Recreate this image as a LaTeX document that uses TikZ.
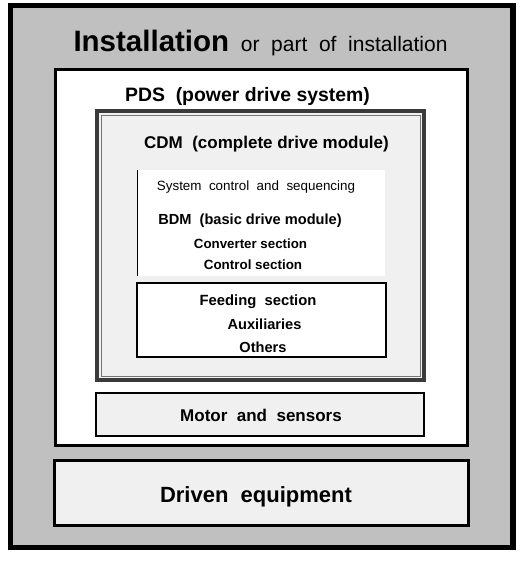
\documentclass[tikz,border=0pt]{standalone}
\usepackage{fontspec}
\setmainfont{Liberation Sans}
\definecolor{instgrey}{HTML}{C0C0C0}
\definecolor{panel}{HTML}{F0F0F0}
\definecolor{pdsline}{HTML}{3A3A3A}
\begin{document}
\begin{tikzpicture}[x=1pt,y=-1pt,
  lbl/.style={anchor=base,inner sep=0pt,text=black},
  bl/.style={lbl,font=\bfseries}]
\useasboundingbox (0,0) rectangle (521,564);
% outer installation frame
\draw[line width=5.5pt,fill=instgrey] (10.5,5.5) rectangle (513,547.5);
% PDS area
\draw[line width=3pt,fill=white] (55,70) rectangle (467.5,445);
% CDM double frame
\draw[line width=4pt,draw=pdsline,fill=panel] (97,111) rectangle (424,380);
\draw[line width=0.8pt,draw=pdsline!70] (101,115) rectangle (420,376);
% BDM white area with left rule
\fill[white] (137,170) rectangle (385,276);
\draw[line width=1pt] (137.5,170) -- (137.5,276);
% feeding box
\draw[line width=1.2pt,fill=white] (137,283) rectangle (386,357);
% motor box
\draw[line width=1.5pt,fill=panel] (96,393) rectangle (424,436);
% driven equipment
\draw[line width=3pt,fill=panel] (54,460.5) rectangle (468,525);
% texts
\node[lbl] (inst) at (260.5,52) {\fontsize{29.5}{31}\selectfont\bfseries Installation\fontsize{21}{23}\selectfont\mdseries\ \ or\ \ part\ \ of\ \ installation};
\node[bl,font=\bfseries\fontsize{19.4}{21}\selectfont] (pds) at (247.5,102) {PDS\ \ (power drive system)};
\node[bl,font=\bfseries\fontsize{17}{19}\selectfont] (cdm) at (266.5,149) {CDM\ \ (complete drive module)};
\node[lbl,font=\fontsize{13.4}{15}\selectfont] (sys) at (256,190) {System\ \ control\ \ and\ \ sequencing};
\node[bl,font=\bfseries\fontsize{14.6}{16}\selectfont] (bdm) at (250,224) {BDM\ \ (basic drive module)};
\node[bl,font=\bfseries\fontsize{13.3}{15}\selectfont] (conv) at (250.5,248) {Converter section};
\node[bl,font=\bfseries\fontsize{13.4}{15}\selectfont] (ctrl) at (253,269) {Control section};
\node[bl,font=\bfseries\fontsize{14.8}{16}\selectfont] (feed) at (258,305.7) {Feeding\ \ section};
\node[bl,font=\bfseries\fontsize{14.6}{16}\selectfont] (aux) at (264.5,329) {Auxiliaries};
\node[bl,font=\bfseries\fontsize{14.6}{16}\selectfont] (oth) at (263,352.7) {Others};
\node[bl,font=\bfseries\fontsize{17}{19}\selectfont] (mot) at (261,421.7) {Motor\ \ and\ \ sensors};
\node[bl,font=\bfseries\fontsize{22}{24}\selectfont] (drv) at (256,502.7) {Driven\ \ equipment};
\end{tikzpicture}
\end{document}
